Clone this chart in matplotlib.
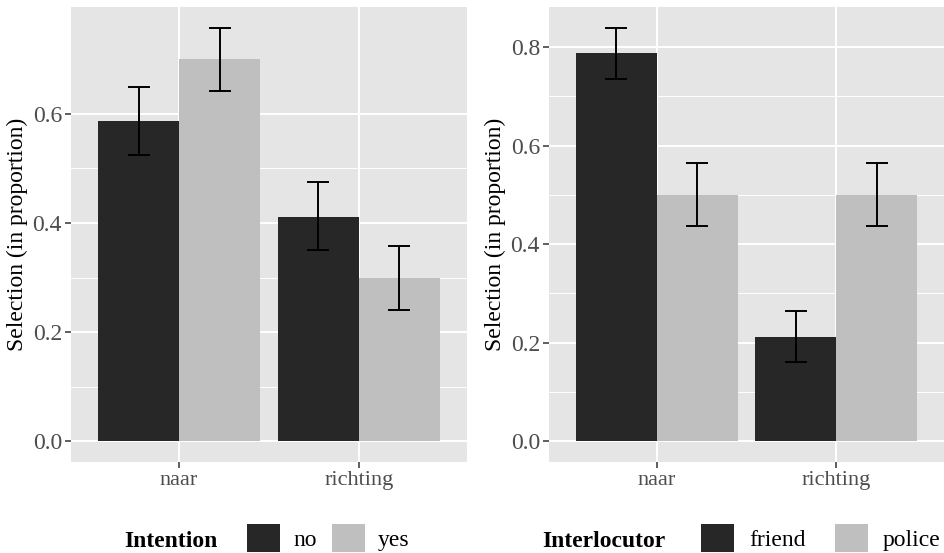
import numpy as np
import matplotlib
matplotlib.use("Agg")
import matplotlib.pyplot as plt
from matplotlib.patches import Patch

plt.rcParams['font.family'] = ['Liberation Serif', 'DejaVu Serif']

# prepositions on the x axis
categories = ["naar", "richting"]

# left panel: selection by intention
intention_levels = ["no", "yes"]
intention_mean = [[0.587, 0.411], [0.700, 0.300]]
intention_lo = [[0.525, 0.350], [0.642, 0.241]]
intention_hi = [[0.650, 0.475], [0.758, 0.358]]

# right panel: selection by interlocutor
interlocutor_levels = ["friend", "police"]
interlocutor_mean = [[0.787, 0.211], [0.500, 0.500]]
interlocutor_lo = [[0.735, 0.160], [0.436, 0.436]]
interlocutor_hi = [[0.839, 0.264], [0.564, 0.564]]

fills = ["#272727", "#bfbfbf"]
panel_bg = "#e5e5e5"
FS = 17


def draw_panel(ax, means, lo, hi, yticks):
    x = np.arange(1, len(categories) + 1)
    w = 0.45
    for i, (m, l, h) in enumerate(zip(means, lo, hi)):
        xs = x + (i - 0.5) * w
        ax.bar(xs, m, width=w, color=fills[i], zorder=2)
        m = np.array(m)
        err = [m - np.array(l), np.array(h) - m]
        ax.errorbar(xs, m, yerr=err, fmt="none", ecolor="black",
                    elinewidth=1.4, capsize=8.2, capthick=1.4, zorder=3)
    top = max(max(r) for r in hi)
    ax.set_ylim(-0.05 * top, top * 1.05)
    ax.set_xlim(0.4, len(categories) + 0.6)

    ax.set_facecolor(panel_bg)
    for s in ax.spines.values():
        s.set_visible(False)
    ax.set_xticks(x)
    ax.set_xticklabels(categories)
    ax.set_yticks(yticks)
    ax.set_yticklabels([f"{t:.1f}" for t in yticks])
    ax.set_yticks(np.array(yticks[:-1]) + 0.1, minor=True)
    ax.grid(which="major", color="white", linewidth=1.4, zorder=0)
    ax.grid(which="minor", axis="y", color="white", linewidth=0.7, zorder=0)
    ax.set_axisbelow(True)
    ax.tick_params(which="major", length=4.5, width=1.1, color="#333333",
                   labelcolor="#4d4d4d", pad=2)
    ax.tick_params(axis="x", labelsize=16)
    ax.tick_params(axis="y", labelsize=17)
    ax.tick_params(which="minor", length=0)
    ax.set_ylabel("Selection (in proportion)", fontsize=FS, labelpad=3)


fig = plt.figure(figsize=(9.44, 5.53), dpi=100)
W, H = 944, 553
ax1 = fig.add_axes([71 / W, (H - 462) / H, 396 / W, 455 / H])
ax2 = fig.add_axes([549 / W, (H - 462) / H, 395 / W, 455 / H])

draw_panel(ax1, intention_mean, intention_lo, intention_hi, [0.0, 0.2, 0.4, 0.6])
draw_panel(ax2, interlocutor_mean, interlocutor_lo, interlocutor_hi,
           [0.0, 0.2, 0.4, 0.6, 0.8])

# legends along the bottom, title to the left of the keys
base_y = (H - 547) / H
key_y = (H - 538) / H
fig.text(124 / W, base_y, "Intention", fontsize=FS, fontweight="bold",
         ha="left", va="baseline")
fig.text(542 / W, base_y, "Interlocutor", fontsize=FS, fontweight="bold",
         ha="left", va="baseline")

for levels, x0, cs, tp in [(intention_levels, 247, 0.64, 0.55),
                           (interlocutor_levels, 701, 1.23, 0.64)]:
    handles = [Patch(facecolor=fills[i], edgecolor="none") for i in range(2)]
    fig.legend(handles, levels, loc="center left",
               bbox_to_anchor=(x0 / W, key_y), ncol=2, frameon=False,
               fontsize=FS, handlelength=1.4, handleheight=1.4,
               handletextpad=tp, columnspacing=cs, borderpad=0,
               borderaxespad=0)

fig.savefig("out.png", dpi=100)
